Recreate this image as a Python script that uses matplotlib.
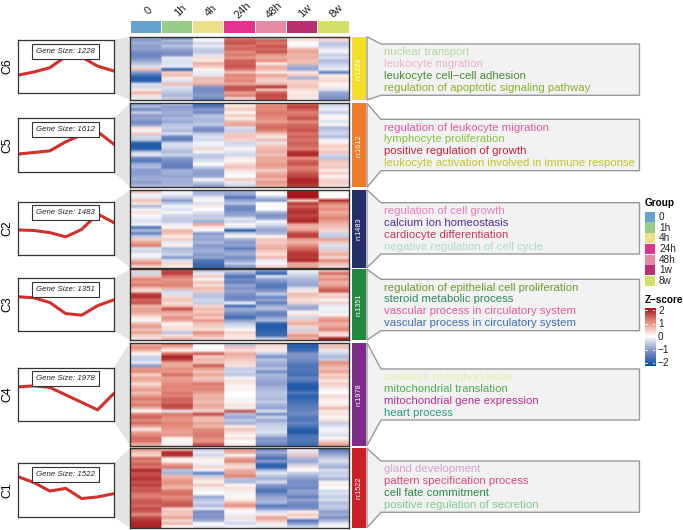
"""Cluster heatmap with mean profiles, GO terms and legends."""

import matplotlib.pyplot as plt
import numpy as np
from matplotlib.colors import LinearSegmentedColormap
from matplotlib.patches import Polygon, Rectangle

plt.rcParams["font.family"] = ["Liberation Sans", "DejaVu Sans"]

GROUPS = ["0", "1h", "4h", "24h", "48h", "1w", "8w"]
GROUP_COLORS = ["#67a3d0", "#98cc88", "#ece188", "#e0338f", "#e58aa5", "#b8306e", "#d2e06a"]

CLUSTERS = ["C6", "C5", "C2", "C3", "C4", "C1"]
GENE_SIZES = [1228, 1612, 1483, 1351, 1978, 1522]
BAR_COLORS = ["#f5df25", "#f07b2a", "#232e6b", "#22873f", "#7d2a8c", "#cc2027"]

# mean profile, 0-1 inside each small box
PROFILE_C6 = [0.34, 0.40, 0.48, 0.69, 0.68, 0.51, 0.42]
PROFILE_C5 = [0.33, 0.36, 0.39, 0.56, 0.69, 0.75, 0.52]
PROFILE_C2 = [0.47, 0.46, 0.42, 0.34, 0.48, 0.77, 0.61]
PROFILE_C3 = [0.65, 0.63, 0.54, 0.33, 0.30, 0.48, 0.59]
PROFILE_C4 = [0.64, 0.66, 0.63, 0.49, 0.35, 0.21, 0.51]
PROFILE_C1 = [0.75, 0.64, 0.48, 0.53, 0.34, 0.37, 0.43]

# heatmap values, one list per column (0, 1h, 4h, 24h, 48h, 1w, 8w), top to bottom
HEAT_C6 = [
    [-0.9, -1, -0.8, -1, -0.9, -1.2, -1.3, -1.2, -0.9, -0.6, -0.3, 0.6, -1, -1.6, -2, -1.9, -0.3, -0.4, 0.2, 0.7, 0.3, -0.2],
    [-1.6, -0.7, -0.9, -0.6, -0.9, -1.1, -1.2, -0.2, -0.3, -0.3, -0.2, -1.8, 0.5, 0.6, 0.2, -0.3, 0.7, -0.3, -0.4, -0.6, -0.7, -0.5],
    [-0.1, -0.1, -0.4, -0.2, -0.5, -0.6, -0.3, 0.3, 0.2, 0.8, 0.5, 0.1, -0.2, -0.2, 0.7, 0.6, 0.8, -1.1, -1.2, -1.1, -1.0, -1.2],
    [1.1, 1.5, 1.6, 1.3, 1.5, 1.1, 1.3, 1.0, 1.5, 1.5, 1.6, 1.3, 0.6, 1.2, 1.0, 1.2, 0.8, 1.6, 1.6, 0.9, 1.2, 0.4],
    [-0.6, 1.5, 1.3, 1.6, 1.4, 1.6, 1.0, 0.8, 1.1, 0.2, 0.8, 0.7, 0.2, 0.9, 0.6, 0.4, 0.7, 1.9, 0.5, 1.5, 1.7, 1.6],
    [0.3, 0.3, 0, -0.1, 0.7, 0.9, 0.7, 0.8, 0.6, 0.7, -0.8, -0.9, 0.2, 0.5, -0.8, 0.4, 0.5, 0.6, 0.3, 0.2, 0.3, 0.2],
    [0.6, 0.4, -0.6, -0.5, -0.2, -0.1, -0.5, -0.3, -0.7, -0.5, -0.3, -0.2, -1.4, 0.2, 0.3, 0.4, 0.1, 0.2, -0.3, -0.9, -1, -1.1],
]
HEAT_C5 = [
    [-1.0, -0.7, -1.2, -0.5, -1.0, -0.9, -1.2, -1.0, 0.3, -0.1, 0.6, -0.4, -0.5, -1.9, -2.0, -1.9, -0.5, -0.2, -1.3, -1.5, -0.8, -0.7, -1.0, -1.0, -0.9, -0.8, -1.0, -0.7],
    [-0.5, -1, -0.9, -0.8, -0.9, -0.7, -0.9, -0.6, -0.5, -0.7, -0.3, -1.3, -1.4, -0.4, -0.3, -0.5, -0.7, -0.4, -1.0, -1.2, -1.3, -1.4, -0.8, -0.8, -0.9, -0.8, -0.8, -0.7],
    [-1.7, -1.5, -1.0, -1.2, -0.6, -0.7, -0.7, -0.5, -1.1, -1.2, -0.5, -0.3, -0.4, -0.1, -0.2, 0.4, -0.1, -0.6, -0.5, -0.3, 0.0, -0.5, -0.9, -1.0, -0.9, -0.1, -0.5, -0.9],
    [0.1, 0.3, 0.5, 0.1, 0.5, 0.2, 0.7, 0.9, -0.3, -0.5, 0.5, 0.6, 0.4, -0.4, -0.3, 0.1, -0.3, -0.4, 0.2, 0.1, 0.4, 0.6, 0.3, -0.1, 0, 0.5, -0.2, -0.4],
    [0.9, 1.2, 1.1, 1.3, 1.2, 1.1, 0.9, 1.3, 1.4, 1.2, 0.6, 0.2, 0.7, -0.2, 0.6, 0.7, 0.8, 0.6, 0.9, 0.8, 1.0, 0.9, 0.5, 0.8, 1.0, 0.7, 1.0, 0.8],
    [1.3, 1.8, 1.5, 1.2, 1.4, 1.6, 1.1, 1.4, 1.5, 1.6, 1.3, 1.5, 1.3, 1.5, 1.4, 1.2, 1.9, 2.0, 1.0, 1.5, 1.6, 1.2, 1.3, 1.6, 1.7, 2.0, 2.0, 1.8],
    [-0.5, -0.3, -0.2, -0.5, -0.1, 0.1, -0.3, 0.1, -0.7, -0.5, -0.4, -0.7, -0.1, 0.2, 0.5, 0.3, 0.6, -0.4, -0.6, 0.6, 0.4, 0.6, 0.2, 0.5, 0.1, 0.4, 0.5, 0.3],
]
HEAT_C2 = [
    [0.7, -0.1, -0.2, 0.6, 0.3, -0.7, -0.1, 0.3, 0.1, -0.2, -0.3, -0.1, -1.5, -0.7, -1.3, -0.5, 0.5, 0.9, 1.2, -0.3, -0.4, 0.1, -0.2, 0.7, 1.1, 0.4],
    [0.1, -0.2, -0.5, -1.0, -0.5, -0.1, -0.3, -0.1, -0.4, -0.5, -0.5, -0.2, 0.1, 0.7, 0.6, 0.2, 0.5, -0.2, 0.1, -0.7, -0.6, -0.4, -1.0, -0.3, 0.4, 0.2],
    [-0.8, -0.7, -0.2, 0.1, -0.3, 0.2, 0, -0.3, -0.5, -0.5, -0.8, 0.8, 0.2, 0.1, -1.0, -0.8, -0.9, -0.7, -1.0, -0.9, -0.8, -1.0, -0.9, -1.5, -1.7, -1.8],
    [-0.8, -0.9, -1.5, -0.9, -0.6, -1.2, -1.3, -1.0, -0.9, -0.3, -0.4, 0.1, -0.3, -1.9, -0.4, 0.1, -0.8, -1.0, -0.9, -1.4, -0.9, -0.8, -1.2, -0.9, -0.5, -1.0],
    [0.1, 0, -0.6, -1.0, 0, 0.1, 0, -0.8, -1.1, -0.9, -0.1, -0.3, -0.7, -0.9, -0.7, 0.1, 0.6, 0.5, 0.7, 0.8, 0.5, 0.3, 0.7, -0.2, -0.1, 0.4],
    [2.1, 2.1, 2.1, 0.5, 1.8, 1.5, 1.8, 1.9, 1.7, 1.9, 2, 0.9, 0.7, 1.0, 1.7, 1.8, 0.9, 0.7, 1.1, 1.4, 1.7, 1.9, 1.8, 2.0, 0.8, 0.9],
    [0.1, 0, 0.1, 1.9, 1.2, 0.9, 1.1, 0.8, 1.0, 1.2, 0.9, 0.7, 0.6, 0.4, -0.4, -0.5, 0.9, 0.5, -0.3, -0.4, 0.6, 0.8, 0.4, 1.1, 0.7, 0.4],
]
HEAT_C3 = [
    [0.5, -0.4, 0.6, 1.2, 1.0, 1.3, 0.6, 0.3, 1.8, 1.9, 1.4, 1.6, 0.7, 0.9, 0.9, 0.6, 0.2, -0.1, 0.7, 1.0, 0.6, 0.9, 0.4, 0.3],
    [1.7, 1.8, 1.3, 1.0, 1.1, 1.2, 0.8, -0.4, -0.3, 0.4, 0.6, 0.3, 0.6, 1.7, 0.9, 0.7, 1.1, 0.8, 0.1, 0.3, 0.3, -0.6, 0.3, 0.7],
    [-0.7, -0.2, 0.5, -0.1, 0.6, 0.3, 0.7, 0.5, -0.6, -0.6, -0.4, -0.5, 0.4, 0.7, 0.5, 0.8, 0.5, 1.0, 0.6, 0.5, 0.3, 1.1, 0.7, 0.4],
    [-0.5, -0.9, -1.6, -1.2, -1.4, -0.9, -1.1, -0.9, -1.1, -1.3, -1.2, -0.1, -1.7, -0.8, -1.0, -1.4, -1.7, -0.9, -0.5, -0.3, 0.1, 0.4, 0.3, 0.2],
    [-1.0, -1.8, -0.3, -0.9, -1.2, -1.5, -1.4, -1.0, -0.5, -1.3, -0.9, -1.4, -0.8, -0.6, -1.2, -1.4, -0.9, -0.7, -1.9, -2.0, -1.9, -1.8, -1.7, -0.5],
    [0.1, -0.3, -0.5, -0.7, -0.8, -0.9, -0.3, 0.2, 0.7, 0.5, 0.3, 0.4, -0.8, -0.9, 0.1, 0.3, -0.4, 0.6, 0.8, 0.4, -0.4, 0.5, 1.0, 0.8],
    [0.5, 1.4, 0.8, 1.1, 0.7, 0.9, 1.3, 1.6, 0.3, 0.6, -0.1, 0.5, -0.2, -0.1, -0.2, 0.1, 0.8, 1.1, 0.7, 0.9, 1.2, 0.4, 0.3, 2.0],
]
HEAT_C4 = [
    [0.8, 1.1, 0.7, 0.1, -0.4, -0.5, -0.2, -1.0, 1.0, 1.1, 0.4, 0.9, 0.8, 0.3, 0.7, 1.0, 0.6, 1.0, 1.3, 1.0, 1.3, 0.7, 0.0, 1.2, 1.5, 1.1, 1.4, 0.9, 0.2, 0.9, 1.2, 1.4, 1.3, 0.8],
    [1.2, 0.7, 0.1, 1.3, 2.0, 1.8, 0.9, 0.8, 1.1, 1.0, 1.4, 0.9, 1.0, 1.1, 1.2, 1.1, 1.3, 1.2, 1.5, 1.4, 1.7, 1.6, -0.2, 1.3, 1.1, 1.0, 1.2, 1.1, 1.0, 0.9, 1.0, 0.1, -0.1, 0.2],
    [-0.1, 0, -0.1, 1.5, 0.5, 0.7, 0.6, 1.5, 0.9, 0.6, 0.9, 0.5, 0.7, 1.3, 1.1, 1.2, 0.9, 0.7, 0.8, 0.6, 0.9, 0.7, 0.4, 1.7, 0.7, 0.6, 0.9, 0.7, 1.1, 1.2, 1.3, 1.1, 1.0, 1.6],
    [-0.6, 0.6, 0.3, 0.8, 0.7, 0.5, 0.4, 0.3, -0.5, -0.4, -0.6, -0.1, 0.3, 0.2, 0.1, 0.1, 0, 0, -0.1, 0.1, 0.3, -0.1, 1.6, -0.6, -0.9, -0.5, -0.8, 0.2, 0.6, 0.3, 0.1, 0.3, 0, 0.2],
    [0.4, 0.3, 0.2, -0.5, -1.1, -0.6, -0.8, -0.9, -0.6, -1.2, -0.7, -0.8, -0.9, -1.0, -0.8, -0.7, -0.6, -0.6, -0.7, -0.5, -0.8, -0.9, -0.3, -1.2, -0.4, -0.9, -0.6, -0.4, -0.4, -0.3, -0.6, -1.1, -1.0, -1.3],
    [-1.9, -1.9, -1.7, -1.1, -1.1, -1.2, -1.4, -1.6, -1.5, -1.5, -1.7, -1.3, -1.5, -1.9, -2.0, -1.9, -1.5, -1.9, -1.8, -1.6, -1.5, -1.4, -1.3, -1.2, -1.5, -1.5, -1.3, -1.6, -1.9, -2.0, -1.6, -1.5, -1.5, -1.7],
    [0.5, 0.6, -0.2, -0.4, -0.7, -0.5, 1.1, 0.8, 0.6, 0.9, 0.4, 0.6, 0.2, 0.5, 0.3, -0.1, 0, 0.4, 0.2, 0.1, 0.2, 0.7, 0.2, 0.3, 0.1, 0.3, -0.5, -0.3, -0.1, -0.2, -0.3, 0.1, 0.5, 0.9],
]
HEAT_C1 = [
    [1.0, 0.6, 0.4, 1.4, 1.2, 1.5, 1.3, 2.0, 1.6, 1.7, 1.9, 1.6, 1.8, 1.5, 1.6, 1.3, 1.2, 1.5, 1.6, 1.4, 1.7, 1.5, 1.1, 1.7, 1.9, 2.0, 2.0],
    [0.7, 1.9, 1.9, 0.2, 0.1, 0.9, 1.3, -0.6, -0.8, 0.7, 0.9, 1.1, 0.9, 0.7, 1.3, 1.4, 1.1, 1.3, 1.5, 1.6, 0.4, 0.6, 0.5, 0.9, 0.4, 0.7, 0.1],
    [-0.5, -0.2, -0.4, 0.2, 0.1, -0.2, 0.4, -0.1, -1.4, -0.5, 0.4, 0.1, 0.5, 0.2, -0.1, 0, -0.9, -0.6, -0.4, -0.7, -0.2, -1.2, -1.0, -1.1, -0.8, 0.0, -0.2],
    [1.0, 0.8, -0.1, 0.9, 1.2, 0.5, 0.3, 0.8, 0.9, 1.2, -0.6, -0.7, 0.1, 0.3, 0.2, -0.1, 0.1, 0.2, 0.7, 1.1, 0.3, 0, -0.2, 0.3, -0.2, -0.4, -0.1],
    [-1.3, -0.8, -1.2, -1.6, -1.0, -1.8, -1.9, -0.7, -0.2, -0.6, -0.8, -0.3, -1.0, -1.3, -1.6, -1.2, -0.9, -0.8, -0.7, -1.5, -1.0, -0.3, 0.2, 0.9, 0.6, 0.2, -0.2],
    [0.2, -0.3, 0.6, -0.7, -0.9, -0.5, 0.3, 0.0, -0.5, -0.8, -1.0, -1.2, -1.1, -1.3, -0.9, -1.0, -1.4, -0.9, -1.2, -1.3, -1.1, 0.2, 0.5, 0.3, -1.5, -1.0, -0.4],
    [-1.5, -1.1, -0.8, -0.5, -0.3, -0.6, -0.8, -0.3, -0.5, -0.4, -0.8, 0.1, 0.2, 0.0, -0.4, -0.3, -0.5, -0.3, -0.7, -0.5, -0.6, -1.0, -0.8, -1.2, -0.7, -0.2, 0.1],
]

TERMS_C6 = ["nuclear transport", "leukocyte migration", "leukocyte cell\u2212cell adhesion", "regulation of apoptotic signaling pathway"]
TERMS_C5 = ["regulation of leukocyte migration", "lymphocyte proliferation", "positive regulation of growth", "leukocyte activation involved in immune response"]
TERMS_C2 = ["regulation of cell growth", "calcium ion homeostasis", "cardiocyte differentiation", "negative regulation of cell cycle"]
TERMS_C3 = ["regulation of epithelial cell proliferation", "steroid metabolic process", "vascular process in circulatory system", "vascular process in circulatory system"]
TERMS_C4 = ["oxidative phosphorylation", "mitochondrial translation", "mitochondrial gene expression", "heart process"]
TERMS_C1 = ["gland development", "pattern specification process", "cell fate commitment", "positive regulation of secretion"]

COLORS_C6 = ["#b5d99a", "#eeb0cf", "#4f8a3c", "#8cb12f"]
COLORS_C5 = ["#e558a5", "#8cc24a", "#c8203f", "#c4c42e"]
COLORS_C2 = ["#ea7fb5", "#51309c", "#c03a5a", "#a8dcc8"]
COLORS_C3 = ["#6f9a2e", "#2f8a58", "#e05ca0", "#3f6fb0"]
COLORS_C4 = ["#e8eda0", "#4fb04f", "#c02c98", "#2a9a88"]
COLORS_C1 = ["#d8a0d0", "#e0487a", "#2a8a48", "#80cc90"]

HEATS = [HEAT_C6, HEAT_C5, HEAT_C2, HEAT_C3, HEAT_C4, HEAT_C1]
PROFILES = [PROFILE_C6, PROFILE_C5, PROFILE_C2, PROFILE_C3, PROFILE_C4, PROFILE_C1]
TERMS = [TERMS_C6, TERMS_C5, TERMS_C2, TERMS_C3, TERMS_C4, TERMS_C1]
TERM_COLORS = [COLORS_C6, COLORS_C5, COLORS_C2, COLORS_C3, COLORS_C4, COLORS_C1]

# layout in image pixels
W, H = 683, 530
PANEL_Y = [(36.7, 100), (103.3, 187.3), (190, 267.7), (269.3, 340), (342.7, 445.7), (448.3, 527.7)]
MINI_Y = [(40, 93.3), (118.3, 171.7), (201.7, 255), (278.3, 331), (367.7, 421), (463.3, 516.7)]
CALLOUT_Y = [(44, 95.3), (119.3, 170.7), (202.7, 254), (279.3, 330.7), (369, 420), (461, 512.3)]
HEAT_X = (130, 349.3)
MINI_X = (18, 113.5)
BAR_X = (352.3, 366)

cmap = LinearSegmentedColormap.from_list(
    "zscore",
    [(0, "#0b4ea2"), (0.25, "#7f92c8"), (0.5, "#ffffff"), (0.75, "#e68f7e"), (1, "#a31015")],
)

fig = plt.figure(figsize=(W / 100, H / 100), dpi=100)


def pixel_axes(x0, x1, y0, y1, **kwargs):
    return fig.add_axes([x0 / W, 1 - y1 / H, (x1 - x0) / W, (y1 - y0) / H], **kwargs)


page = pixel_axes(0, W, 0, H)
page.set_xlim(0, W)
page.set_ylim(H, 0)
page.axis("off")


def draw_group_strip():
    ancho = (HEAT_X[1] - HEAT_X[0]) / len(GROUPS)
    for i, (name, color) in enumerate(zip(GROUPS, GROUP_COLORS)):
        x0 = HEAT_X[0] + i * ancho
        page.add_patch(Rectangle((x0 + 0.5, 21), ancho - 1, 12.3, facecolor=color, edgecolor="none"))
        page.text(x0 + ancho / 2 + 3, 10.5, name, rotation=45, ha="center", va="center",
                  fontsize=8, color="#222222")


def draw_cluster(i):
    y0, y1 = PANEL_Y[i]
    my0, my1 = MINI_Y[i]
    cy0, cy1 = CALLOUT_Y[i]

    # grey funnel from the profile box to the heatmap
    page.add_patch(Polygon([(MINI_X[1], my0), (HEAT_X[0], y0), (HEAT_X[0], y1), (MINI_X[1], my1)],
                           facecolor="#e4e4e4", edgecolor="none"))

    ax = pixel_axes(MINI_X[0], MINI_X[1], my0, my1)
    ax.plot(range(len(GROUPS)), PROFILES[i], color="#d2302c", linewidth=2.2)
    ax.set_xlim(0, len(GROUPS) - 1)
    ax.set_ylim(0, 1)
    ax.set_xticks([])
    ax.set_yticks([])
    for spine in ax.spines.values():
        spine.set_linewidth(0.9)
        spine.set_color("#333333")
    ax.text(0.5, 0.79, f"Gene Size: {GENE_SIZES[i]}", transform=ax.transAxes, ha="center", va="center",
            fontsize=5.7, style="italic", color="#222222",
            bbox=dict(boxstyle="square,pad=0.5", facecolor="white", edgecolor="#333333", linewidth=0.8))
    page.text(7.5, (my0 + my1) / 2, CLUSTERS[i], rotation=90, ha="center", va="center", fontsize=8.8)

    # columns repeated so only the rows get smoothed
    hm = pixel_axes(HEAT_X[0], HEAT_X[1], y0, y1)
    valores = np.repeat(np.array(HEATS[i]).T, 30, axis=1)
    hm.imshow(valores, aspect="auto", cmap=cmap, vmin=-2.2, vmax=2.2, interpolation="bilinear")
    hm.set_xticks([])
    hm.set_yticks([])
    for spine in hm.spines.values():
        spine.set_linewidth(1.0)
        spine.set_color("#333333")

    page.add_patch(Rectangle((BAR_X[0], y0), BAR_X[1] - BAR_X[0], y1 - y0, facecolor=BAR_COLORS[i], edgecolor="none"))
    page.text(sum(BAR_X) / 2, (y0 + y1) / 2, f"n:{GENE_SIZES[i]}", rotation=90, ha="center", va="center",
              fontsize=5.3, color="white")

    page.add_patch(Polygon([(367, y0), (381, cy0), (639.5, cy0), (639.5, cy1), (381, cy1), (367, y1)],
                           closed=True, facecolor="#f2f2f2", edgecolor="#999999", linewidth=1.0))
    for k, (term, color) in enumerate(zip(TERMS[i], TERM_COLORS[i])):
        page.text(384.5, cy0 + 8.3 + 11.85 * k, term, color=color, fontsize=8.2, va="center", ha="left")


def draw_legends():
    page.text(645, 203, "Group", fontsize=7.2, fontweight="bold", va="center")
    for i, (name, color) in enumerate(zip(GROUPS, GROUP_COLORS)):
        y = 211.7 + i * 10.7
        page.add_patch(Rectangle((645, y), 10, 10.2, facecolor=color, edgecolor="none"))
        page.text(659, y + 5.2, name, fontsize=7.2, va="center", color="#222222")

    page.text(645, 300, "Z\u2212score", fontsize=7.2, fontweight="bold", va="center")
    cb = pixel_axes(645, 655, 307.7, 366)
    cb.imshow(np.linspace(2.2, -2.2, 120).reshape(-1, 1), aspect="auto", cmap=cmap, vmin=-2.2, vmax=2.2,
              extent=[0, 1, -2.2, 2.2])
    cb.axis("off")
    for z in [2, 1, 0, -1, -2]:
        cb.plot([0, 0.2], [z, z], color="white", linewidth=0.6)
        cb.plot([0.8, 1], [z, z], color="white", linewidth=0.6)
        label = str(z).replace("-", "\u2212")
        page.text(658, 337 - z * 13.2, label, fontsize=7.2, va="center", color="#222222")
    cb.set_xlim(0, 1)
    cb.set_ylim(-2.2, 2.2)


draw_group_strip()
for n in range(len(CLUSTERS)):
    draw_cluster(n)
draw_legends()

fig.savefig("out.png", dpi=100)
plt.close(fig)
